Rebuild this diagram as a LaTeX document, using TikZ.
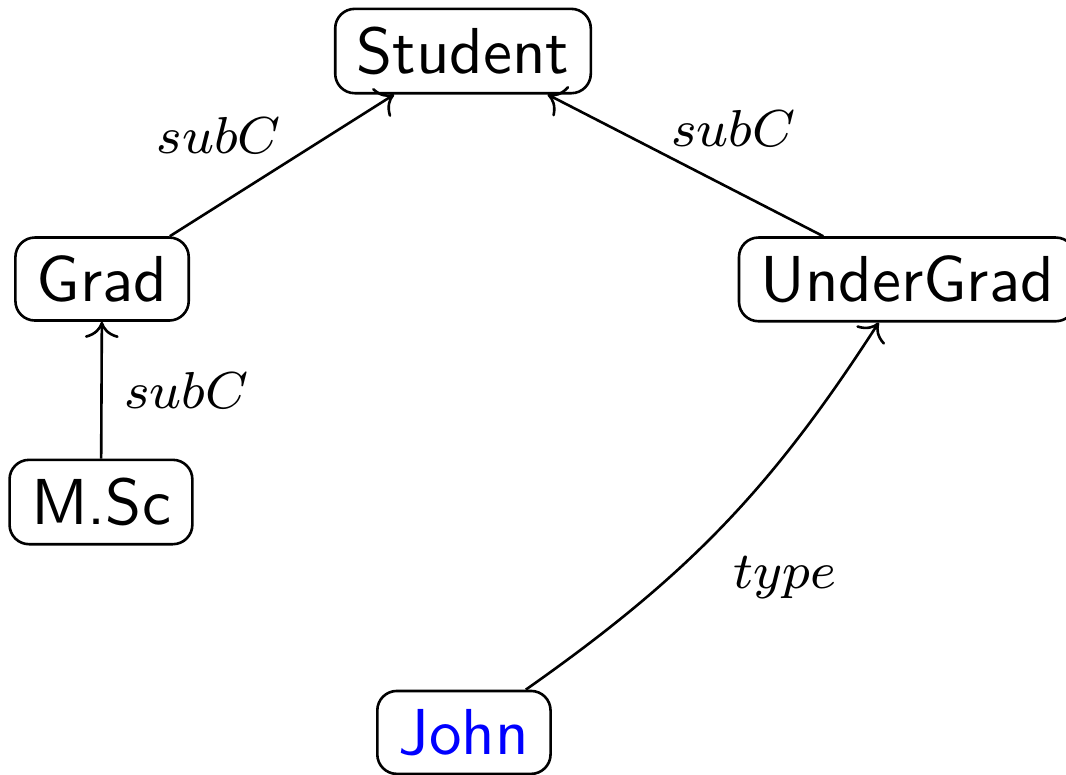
\documentclass[tikz,border=0pt]{standalone}
\usepackage{tikz}
\usetikzlibrary{arrows.meta, positioning}
\definecolor{johnblue}{RGB}{0,0,255}

\begin{document}
\begin{tikzpicture}[
    >=To,
    concept/.style={draw, rounded corners=3pt, font=\sffamily, inner xsep=3.3pt, inner ysep=2.8pt},
    rel/.style={->, thin},
    lbl/.style={font=\footnotesize, inner sep=1pt},
]
    \useasboundingbox (0,0) rectangle (5.765,4.186);

    % Classes
    \node[concept] (Student) at (2.504, 3.910) {Student};
    \node[concept] (Grad) at (0.552, 2.677) {Grad};
    \node[concept] (UnderGrad) at (4.906, 2.675) {UnderGrad};
    \node[concept] (MSc) at (0.546, 1.471) {M.Sc};

    % Instance
    \node[concept, text=johnblue] (John) at (2.509, 0.225) {John};

    % Subclass links
    \draw[rel] (Grad) -- node[lbl, above left, pos=0.53] {$subC$} (Student);
    \draw[rel] (UnderGrad) -- node[lbl, above right, pos=0.58] {$subC$} (Student);
    \draw[rel] (MSc) -- node[lbl, right, inner sep=3.3pt] {$subC$} (Grad);

    % Type link
    \draw[rel] (John) to[bend right=11] node[lbl, pos=0.47, below right, inner sep=3pt] {$type$} (UnderGrad);

\end{tikzpicture}
\end{document}
